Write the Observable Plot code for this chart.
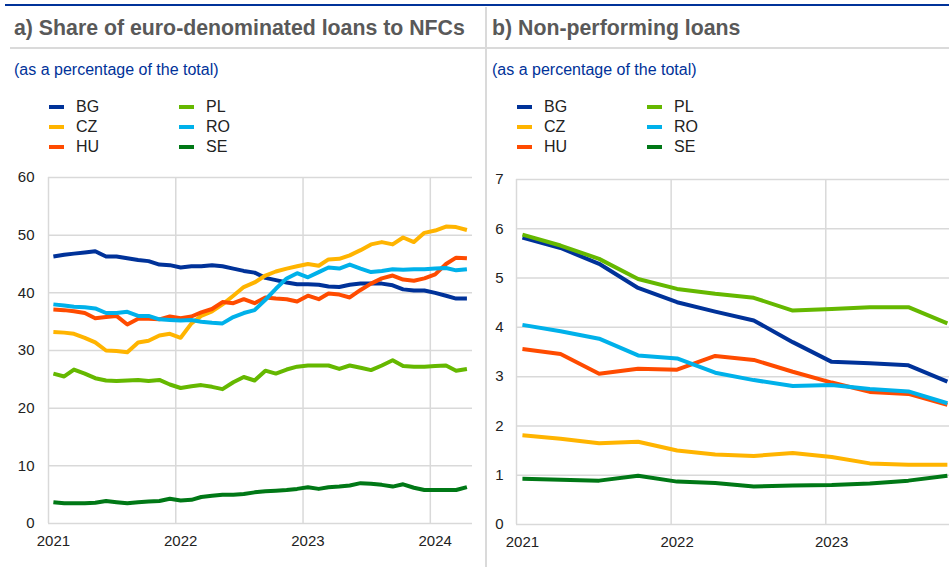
<!DOCTYPE html>
<html>
<head>
<meta charset="utf-8">
<script src="https://cdn.jsdelivr.net/npm/d3@7"></script>
<script src="https://cdn.jsdelivr.net/npm/@observablehq/plot@0.6"></script>
<style>
  body { margin: 0; background: #fff; font-family: "Liberation Sans", Arial, sans-serif; }
  #root { position: relative; width: 949px; height: 574px; overflow: hidden; background: #fff; }
  .abs { position: absolute; }
  .title { font-weight: bold; font-size: 21.3px; color: #595959; line-height: 24px; white-space: nowrap; }
  .sub { font-size: 16px; color: #003299; line-height: 20px; white-space: nowrap; }
  .leg { font-size: 16px; color: #222; line-height: 20px; white-space: nowrap; }
  .sw { height: 4px; width: 15px; }
</style>
</head>
<body>
<div id="root"></div>
<script>
// ---------- data ----------
const countries = ["BG", "CZ", "HU", "PL", "RO", "SE"];
const colors = ["#003299", "#ffb400", "#ff4b00", "#65b800", "#00b1ea", "#007816"];

const titleA = "a) Share of euro-denominated loans to NFCs";
const titleB = "b) Non-performing loans";
const subtitle = "(as a percentage of the total)";

// Panel a: monthly, Jan 2021 - Apr 2024
const shareBG = [46.3, 46.6, 46.8, 47.0, 47.2, 46.3, 46.3, 46.0, 45.7, 45.5, 44.9, 44.8,
                 44.4, 44.6, 44.6, 44.8, 44.6, 44.2, 43.8, 43.5, 42.6, 42.2, 41.8, 41.5,
                 41.5, 41.4, 41.1, 41.0, 41.4, 41.6, 41.6, 41.6, 41.3, 40.6, 40.4, 40.4,
                 40.0, 39.5, 39.0, 39.0];
const shareCZ = [33.2, 33.1, 32.9, 32.2, 31.4, 30.0, 29.9, 29.7, 31.4, 31.7, 32.6, 32.9,
                 32.2, 34.7, 36.0, 36.8, 38.0, 39.5, 41.0, 41.8, 43.0, 43.7, 44.2, 44.6,
                 45.0, 44.7, 45.8, 45.9, 46.5, 47.4, 48.4, 48.8, 48.4, 49.6, 48.8, 50.4,
                 50.8, 51.5, 51.4, 50.9];
const shareHU = [37.1, 37.0, 36.8, 36.5, 35.6, 35.8, 36.0, 34.5, 35.5, 35.5, 35.4, 35.9,
                 35.6, 35.9, 36.6, 37.2, 38.4, 38.2, 38.9, 38.2, 39.2, 39.0, 38.9, 38.5,
                 39.5, 38.9, 39.9, 39.7, 39.2, 40.5, 41.6, 42.5, 43.0, 42.3, 42.1, 42.5,
                 43.2, 45.0, 46.1, 46.0];
const sharePL = [26.0, 25.5, 26.7, 26.0, 25.2, 24.8, 24.7, 24.8, 24.9, 24.7, 24.9, 24.1,
                 23.5, 23.8, 24.0, 23.7, 23.3, 24.5, 25.4, 24.8, 26.5, 26.0, 26.7, 27.2,
                 27.4, 27.4, 27.4, 26.8, 27.4, 27.0, 26.6, 27.4, 28.3, 27.3, 27.2, 27.2,
                 27.3, 27.4, 26.5, 26.8];
const shareRO = [38.0, 37.8, 37.6, 37.5, 37.3, 36.5, 36.5, 36.7, 36.0, 36.0, 35.4, 35.3,
                 35.2, 35.3, 35.0, 34.8, 34.7, 35.8, 36.5, 37.0, 38.8, 40.7, 42.5, 43.4,
                 42.7, 43.6, 44.4, 44.2, 44.9, 44.2, 43.6, 43.8, 44.1, 44.0, 44.1, 44.1,
                 44.2, 44.3, 43.9, 44.1];
const shareSE = [3.7, 3.5, 3.5, 3.5, 3.6, 3.9, 3.7, 3.5, 3.7, 3.8, 3.9, 4.3,
                 4.0, 4.1, 4.6, 4.8, 5.0, 5.0, 5.1, 5.4, 5.6, 5.7, 5.8, 6.0,
                 6.3, 6.0, 6.3, 6.4, 6.6, 7.0, 6.9, 6.7, 6.4, 6.8, 6.2, 5.8,
                 5.8, 5.8, 5.8, 6.3];

// Panel b: quarterly, Q1 2021 - Q4 2023
const nplBG = [5.82, 5.61, 5.29, 4.80, 4.51, 4.32, 4.14, 3.70, 3.30, 3.27, 3.23, 2.90];
const nplCZ = [1.81, 1.74, 1.65, 1.68, 1.50, 1.42, 1.39, 1.45, 1.37, 1.24, 1.21, 1.21];
const nplHU = [3.56, 3.46, 3.06, 3.16, 3.14, 3.42, 3.34, 3.10, 2.88, 2.69, 2.65, 2.43];
const nplPL = [5.88, 5.66, 5.39, 4.98, 4.78, 4.68, 4.60, 4.34, 4.37, 4.41, 4.41, 4.08];
const nplRO = [4.05, 3.92, 3.77, 3.43, 3.37, 3.08, 2.93, 2.81, 2.83, 2.75, 2.70, 2.46];
const nplSE = [0.93, 0.91, 0.89, 0.99, 0.87, 0.84, 0.77, 0.79, 0.80, 0.83, 0.89, 0.99];

const yearLabelsA = ["2021", "2022", "2023", "2024"];
const yearLabelsB = ["2021", "2022", "2023"];
const ticksA = [0, 10, 20, 30, 40, 50, 60];
const ticksB = [0, 1, 2, 3, 4, 5, 6, 7];

// ---------- build ----------
const root = document.getElementById("root");
function el(cls, css, text) {
  const d = document.createElement("div");
  d.className = "abs " + (cls || "");
  Object.assign(d.style, css);
  if (text != null) d.textContent = text;
  root.appendChild(d);
  return d;
}

// frame lines
el("", {left: "5px", top: "4px", width: "944px", height: "2px", background: "#003299"});
el("", {left: "10px", top: "47px", width: "939px", height: "2px", background: "#dadada"});
el("", {left: "485px", top: "7px", width: "2px", height: "560px", background: "#dadada"});

// titles
el("title", {left: "14px", top: "16px"}, titleA);
el("title", {left: "492px", top: "16px"}, titleB);
el("sub", {left: "14px", top: "60px"}, subtitle);
el("sub", {left: "492px", top: "60px"}, subtitle);

// legends
function legend(x1, x2) {
  countries.forEach((c, i) => {
    const col = Math.floor(i / 3), row = i % 3;
    const sx = col === 0 ? x1 : x2;
    const cy = 107 + row * 20;
    el("sw", {left: sx + "px", top: (cy - 2) + "px", background: colors[i]});
    el("leg", {left: (sx + 27) + "px", top: (cy - 10) + "px"}, c);
  });
}
legend(49, 179);
legend(517, 647);

const shareSeries = [shareBG, shareCZ, shareHU, sharePL, shareRO, shareSE];
const nplSeries = [nplBG, nplCZ, nplHU, nplPL, nplRO, nplSE];

const dataA = countries.flatMap((c, i) =>
  shareSeries[i].map((v, j) => ({country: c, date: new Date(Date.UTC(2021, j, 15)), value: v})));
const dataB = countries.flatMap((c, i) =>
  nplSeries[i].map((v, j) => ({country: c, date: new Date(Date.UTC(2021, j * 3, 15)), value: v})));

const gridStyle = {stroke: "#d9d9d9", strokeOpacity: 1, strokeWidth: 1.5};
const font = "'Liberation Sans', Arial, sans-serif";

function panel({data, width, marginLeft, marginRight, marginTop, marginBottom, xDomain, yDomain, yTicks, yPad, yearLabels}) {
  const yearStarts = yearLabels.map(y => new Date(Date.UTC(+y, 0, 1)));
  const yearMids = yearLabels.map(y => new Date(Date.UTC(+y, 0, 15)));
  return Plot.plot({
    width, height: 400, marginLeft, marginRight, marginTop, marginBottom,
    style: {fontFamily: font, fontSize: "15px", color: "#222", background: "transparent", overflow: "visible"},
    x: {type: "utc", domain: xDomain, axis: null},
    y: {domain: yDomain, axis: null},
    color: {domain: countries, range: colors},
    marks: [
      Plot.gridY(yTicks, gridStyle),
      Plot.gridX(yearStarts, gridStyle),
      Plot.axisY(yTicks, {tickSize: 0, tickPadding: yPad, fontSize: 15, fill: "#222", label: null}),
      Plot.axisX(yearMids, {tickSize: 0, tickPadding: 12, fontSize: 15, fill: "#222", label: null,
        tickFormat: (d) => yearLabels[yearMids.findIndex(m => +m === +d)]}),
      Plot.line(data, {x: "date", y: "value", z: "country", stroke: "country",
        strokeWidth: 4, strokeLinejoin: "round", strokeLinecap: "butt"})
    ]
  });
}

const svgA = panel({
  data: dataA, width: 485, marginLeft: 48, marginRight: 13, marginTop: 17, marginBottom: 37,
  xDomain: [new Date(Date.UTC(2021, 0, 1)), new Date(Date.UTC(2024, 4, 1))],
  yDomain: [0, 60], yTicks: ticksA, yPad: 14, yearLabels: yearLabelsA
});
const wrapA = el("", {left: "0px", top: "160px"});
wrapA.appendChild(svgA);

const svgB = panel({
  data: dataB, width: 463, marginLeft: 30, marginRight: 0, marginTop: 19, marginBottom: 36,
  xDomain: [new Date(Date.UTC(2021, 0, 1)), new Date(Date.UTC(2023, 9, 20))],
  yDomain: [0, 7], yTicks: ticksB, yPad: 13, yearLabels: yearLabelsB
});
const wrapB = el("", {left: "486px", top: "160px"});
wrapB.appendChild(svgB);
</script>
</body>
</html>
